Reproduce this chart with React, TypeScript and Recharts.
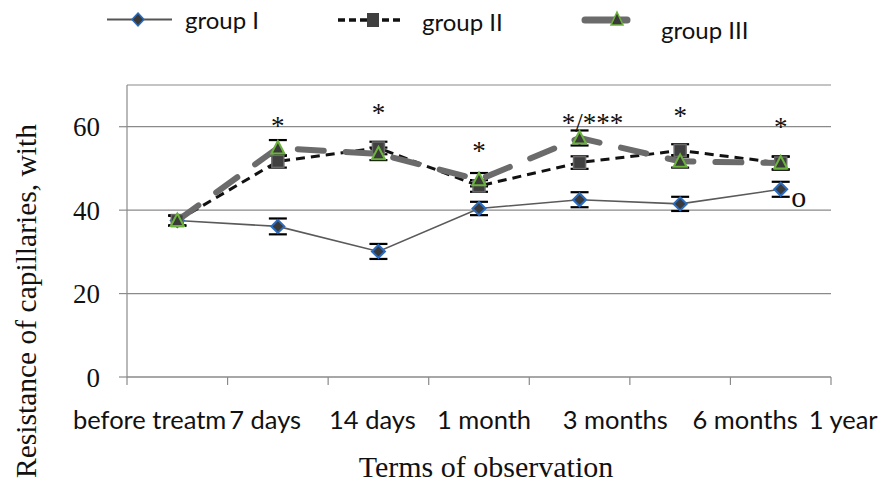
import React from 'react';
import { LineChart, Line, XAxis, YAxis, CartesianGrid, ErrorBar, ReferenceDot } from 'recharts';

const terms = ['before treatm', '7 days', '14 days', '1 month', '3 months', '6 months', '1 year'];
const group1 = [37.5, 36.1, 30.1, 40.4, 42.5, 41.5, 45.0];
const group2 = [37.5, 51.7, 54.9, 45.8, 51.4, 54.3, 51.3];
const group3 = [37.5, 54.9, 53.5, 47.3, 57.3, 51.7, 51.3];
const err1 = [1.2, 1.9, 1.8, 1.6, 1.8, 1.7, 1.8];
const err2 = [1.2, 1.5, 1.5, 1.4, 1.5, 1.5, 1.5];
const err3 = [1.2, 1.9, 1.5, 1.6, 1.8, 1.5, 1.6];
const yTicks = [0, 20, 40, 60];

const markTerms = ['7 days', '14 days', '1 month', '3 months', '6 months', '1 year', '1 year'];
const markValues = [61.0, 64.1, 55.0, 61.7, 63.4, 60.7, 42.5];
const markTexts = ['*', '*', '*', '*/***', '*', '*', 'o'];

const data = terms.map((t, i) => ({
  term: t,
  g1: group1[i],
  g2: group2[i],
  g3: group3[i],
  e1: err1[i],
  e2: err2[i],
  e3: err3[i],
}));

const labelShift = [-27.6, -12.7, -6, 5, 35.7, 65, 62.5];
const markShift = [0, 0, 0, 13, 0, 0, 18];

const sans = 'Lato, "Open Sans", sans-serif';
const serif = '"Liberation Serif", "DejaVu Serif", serif';

const XTick = (props: any) => {
  const { x, y, payload, index, width, visibleTicksCount } = props;
  const count = visibleTicksCount || 7;
  const step = (typeof width === 'number' && width > 0 ? width : 704) / count;
  const left = x - step / 2;
  const right = x + step / 2;
  return (
    <g>
      <line x1={left} y1={y} x2={left} y2={y + 8} stroke="#8a8a8a" strokeWidth={1.2} />
      {index === count - 1 && <line x1={right} y1={y} x2={right} y2={y + 8} stroke="#8a8a8a" strokeWidth={1.2} />}
      <text x={x + labelShift[index]} y={y + 52} textAnchor="middle" fontFamily={sans} fontSize={25.5} fill="#111">
        {payload.value}
      </text>
    </g>
  );
};

const Diamond = (p: any) => {
  const { cx, cy, index } = p;
  if (cx == null || cy == null) return <g key={index} />;
  const s = 6.5;
  return (
    <path key={index} d={`M${cx},${cy - s}L${cx + s},${cy}L${cx},${cy + s}L${cx - s},${cy}Z`}
      fill="#3a3a3a" stroke="#2a6cc0" strokeWidth={2} />
  );
};

const Square = (p: any) => {
  const { cx, cy, index } = p;
  if (cx == null || cy == null) return <g key={index} />;
  const s = 6;
  return <rect key={index} x={cx - s} y={cy - s} width={2 * s} height={2 * s} fill="#404040" stroke="#6a6a6a" strokeWidth={1.5} />;
};

const Triangle = (p: any) => {
  const { cx, cy, index } = p;
  if (cx == null || cy == null) return <g key={index} />;
  return (
    <path key={index} d={`M${cx},${cy - 7}L${cx + 6.5},${cy + 5.5}L${cx - 6.5},${cy + 5.5}Z`}
      fill="#3a3a3a" stroke="#6cb33e" strokeWidth={2} />
  );
};

export default function App() {
  return (
    <div style={{ position: 'absolute', left: 0, top: 0, width: 882, height: 483, background: '#fff' }}>
      <LineChart width={882} height={483} data={data} margin={{ top: 85, right: 51, left: 0, bottom: 0 }}>
        <CartesianGrid horizontal vertical={false} stroke="#8a8a8a" strokeWidth={1.2} />
        <XAxis dataKey="term" scale="band" height={106} axisLine={{ stroke: '#8a8a8a', strokeWidth: 1.2 }} tickLine={false}
          tickSize={0} tickMargin={0} interval={0} tick={<XTick />} />
        <YAxis domain={[0, 70]} ticks={yTicks} width={127} tickSize={8} tickMargin={19} stroke="#8a8a8a" strokeWidth={1.2}
          tick={{ fontFamily: serif, fontSize: 27, fill: '#111' }} />
        <Line dataKey="g1" stroke="#5a5a5a" strokeWidth={1.6} isAnimationActive={false} dot={Diamond} activeDot={false}>
          <ErrorBar dataKey="e1" width={9} stroke="#000" strokeWidth={2.2} direction="y" />
        </Line>
        <Line dataKey="g2" stroke="#111" strokeWidth={3} strokeDasharray="9 6" isAnimationActive={false} dot={Square} activeDot={false}>
          <ErrorBar dataKey="e2" width={9} stroke="#000" strokeWidth={2.2} direction="y" />
        </Line>
        <Line dataKey="g3" stroke="#6b6b6b" strokeWidth={6} strokeDasharray="26 22" strokeLinecap="round" isAnimationActive={false} dot={Triangle} activeDot={false}>
          <ErrorBar dataKey="e3" width={9} stroke="#000" strokeWidth={2.2} direction="y" />
        </Line>
        {markTerms.map((t, i) => (
          <ReferenceDot key={i} x={t} y={markValues[i]} r={1}
            shape={(p: any) => (
              <text x={p.cx + markShift[i]} y={p.cy} dy={markTexts[i] === 'o' ? '0.23em' : '0.47em'} textAnchor="middle"
                fontFamily={serif} fontSize={markTexts[i] === 'o' ? 30 : 27} fill="#111">
                {markTexts[i]}
              </text>
            )} />
        ))}
      </LineChart>
      <svg width={882} height={483} style={{ position: 'absolute', left: 0, top: 0, pointerEvents: 'none' }}>
        <text transform="translate(36,301) rotate(-90)" textAnchor="middle" fontFamily={serif} fontSize={29.5} fill="#111">
          Resistance of capillaries, with
        </text>
        <text x={486} y={477} textAnchor="middle" fontFamily={serif} fontSize={30} fill="#111">Terms of observation</text>
        <line x1={107} y1={19.5} x2={172} y2={19.5} stroke="#555" strokeWidth={2} />
        <path d="M138,13L144,19.5L138,26L132,19.5Z" fill="#3a3a3a" stroke="#2a6cc0" strokeWidth={1.5} />
        <text x={185} y={29} fontFamily={sans} fontSize={24} fill="#111">group I</text>
        <line x1={338} y1={20} x2={402} y2={20} stroke="#111" strokeWidth={3.5} strokeDasharray="7 4" />
        <rect x={367} y={13} width={12} height={14} fill="#404040" />
        <text x={422} y={31} fontFamily={sans} fontSize={24} fill="#111">group II</text>
        <line x1={585} y1={20} x2={627} y2={20} stroke="#6b6b6b" strokeWidth={7} strokeLinecap="round" />
        <path d="M617,12L623,25L611,25Z" fill="#3a3a3a" stroke="#6cb33e" strokeWidth={1.5} />
        <text x={661} y={39} fontFamily={sans} fontSize={24} fill="#111">group III</text>
      </svg>
    </div>
  );
}
